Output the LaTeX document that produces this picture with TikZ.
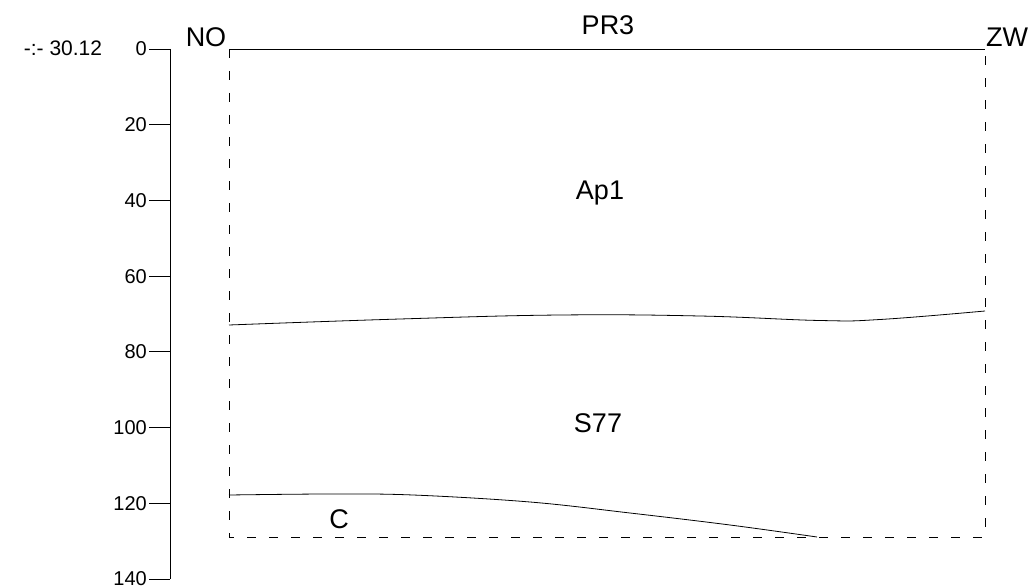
\documentclass[tikz,border=0pt]{standalone}
\usepackage{fontspec}
\setmainfont{Liberation Sans}
\usetikzlibrary{positioning}

\begin{document}
\begin{tikzpicture}[
    x=1bp, y=-1bp,
    bigl/.style={inner sep=0pt, font=\fontsize{27bp}{32bp}\selectfont},
    tickl/.style={inner sep=0pt, anchor=east, font=\fontsize{20bp}{24bp}\selectfont},
    grens/.style={line width=0.8bp},
    kader/.style={line width=0.8bp, dash pattern=on 9bp off 13bp}
]
\useasboundingbox (0,0) rectangle (1033,587);

% schaal
\draw[grens] (170,49) -- (170,579);
\foreach \d in {0,20,...,140} {
  \draw[grens] (149,{49+3.786*\d}) -- (170,{49+3.786*\d});
  \node[tickl] (t\d) at (147,{49+3.786*\d}) {\d};
}
\node[inner sep=0pt, font=\fontsize{21bp}{25bp}\selectfont] (peil) at (63,48) {-:- 30.12};

% profiel
\coordinate (lb) at (229,49);
\coordinate (rb) at (985,49);
\coordinate (lo) at (229,537);
\coordinate (ro) at (985,537);
\draw[grens] (lb) -- (rb);
\draw[kader] (lb) -- (lo) -- (ro) -- (rb);

\node[bigl] (no) at (206,37) {NO};
\node[bigl] (zw) at (1007,37) {ZW};
\node[bigl] (pr) at (608,25) {PR3};

% horizontgrenzen
\draw[grens] plot[smooth, tension=0.7] coordinates {(229,325) (400,319) (560,315) (700,316) (820,320.5) (880,319.5) (985,311)};
\draw[grens] plot[smooth, tension=0.6] coordinates {(229,495) (330,494) (413,495) (530,502) (630,513) (730,525) (817,537)};

\node[bigl] (ap) at (600,193) {Ap1};
\node[bigl] (s) at (598,423) {S77};
\node[bigl] (c) at (339,519) {C};
\end{tikzpicture}
\end{document}
